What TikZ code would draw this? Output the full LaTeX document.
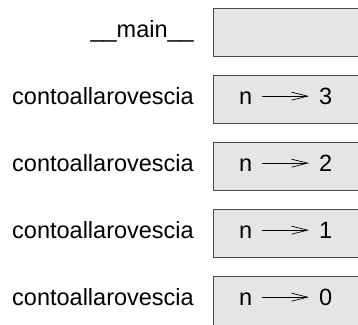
\documentclass[tikz,border=0pt]{standalone}
\usepackage{fontspec}
\setmainfont{Liberation Sans}
\usetikzlibrary{arrows.meta}

\begin{document}
\begin{tikzpicture}[x=1pt,y=-1pt,
        frame/.style={draw=black!70,fill=black!10,line width=0.8pt,minimum width=150pt,minimum height=48pt,inner sep=0pt,anchor=north west},
        lbl/.style={anchor=base east,inner sep=0pt,font=\fontsize{23.5}{28}\selectfont},
        txt/.style={anchor=base west,inner sep=0pt,font=\fontsize{23.5}{28}\selectfont}]
        \clip (0,0) rectangle (358,324);
        \node[frame] (fmain) at (213,8) {};
        \node[lbl] (lmain) at (194,37) {\_\_main\_\_};
        \foreach \X [count=\I] in {3,2,1,0}
            {\ifnum\X=0
                \node[frame,minimum height=54pt] (f\X) at (213,8+67*\I) {};
             \else
                \node[frame] (f\X) at (213,8+67*\I) {};
             \fi
             \node[lbl] (l\X) at (194,37+67*\I) {contoallarovescia};
             \node[txt] (n\X) at (239,37+67*\I) {n};
             \node[txt] (v\X) at (319,37+67*\I) {\X};
             \draw[line width=0.7pt,-{Straight Barb[length=16pt,width=8pt,line width=0.7pt]},shorten <=10pt,shorten >=10pt]
                ([yshift=1.5pt]n\X.east) -- ([yshift=1.5pt]n\X.east -| v\X.west);
            }
    \end{tikzpicture}
\end{document}
